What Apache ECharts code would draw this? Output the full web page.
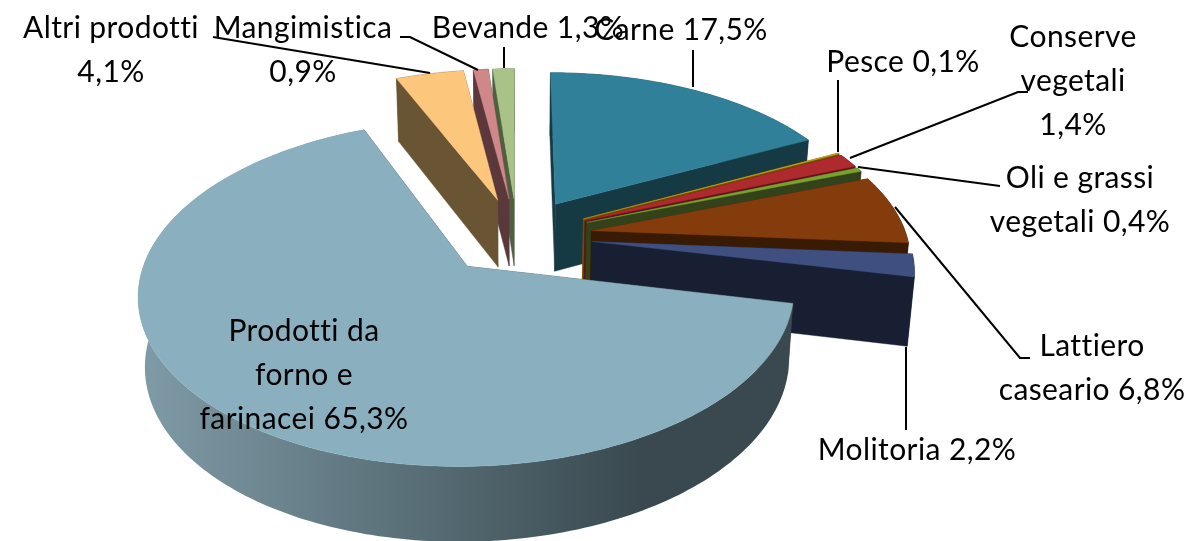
<!DOCTYPE html>
<html><head><meta charset="utf-8">
<style>html,body{margin:0;padding:0;background:#fff}#c{width:1195px;height:541px}</style>
<script src="https://cdn.jsdelivr.net/npm/echarts@6/dist/echarts.min.js"></script>
</head><body><div id="c"></div>
<script>
const categories=['Carne','Pesce','Conserve vegetali','Oli e grassi vegetali','Lattiero caseario','Molitoria','Prodotti da forno e farinacei','Altri prodotti','Mangimistica','Bevande'];
const values=[17.5,0.1,1.4,0.4,6.8,2.2,65.3,4.1,0.9,1.3];
const topColors=['#31809A','#D9A400','#AE2A2E','#7BA12E','#843C0C','#3F5080','#8AB0BF','#FCC77C','#CF8789','#A8C288'];
const wallColors=['#163A44','#6B5200','#5A1518','#33421A','#381A05','#181F33','#39494F','#695434','#5A383B','#4F6040'];
const labelLines=[
 ['Carne 17,5%'],['Pesce 0,1%'],['Conserve','vegetali','1,4%'],['Oli e grassi','vegetali 0,4%'],['Lattiero','caseario 6,8%'],['Molitoria 2,2%'],
 ['Prodotti da','forno e','farinacei 65,3%'],['Altri prodotti','4,1%'],['Mangimistica','0,9%'],['Bevande 1,3%']];
const labelAnchors=[[681,30],[903,62],[1073,37],[1080,178],[1092,346],[917,450],[304,331],[111,28],[303,28],[528,28]];
const lineHeight=44.3;
const leaders=[[[693,50],[693,87]],[[838,80],[838,152]],[[850,158],[1018,92],[1028,92]],[[858,167],[1000,186]],[[895,207],[1020,358],[1030,358]],[[906,347],[906,430]],null,[[213,37],[430,73]],[[400,37],[410,37],[478,70]],[[504,47],[504,68]]];

const cam={cx:517,cy:236,A:315,B:160,p:0.15,D:68,q:0.018,explode:0.24};
const origGetContext=HTMLCanvasElement.prototype.getContext;
HTMLCanvasElement.prototype.getContext=function(){const c=origGetContext.apply(this,arguments);if(c&&'letterSpacing' in c)c.letterSpacing='0.4px';return c;};
const total=values.reduce((a,b)=>a+b,0);
let acc=0;
const slices=values.map((v,i)=>{const a0=acc/total*2*Math.PI;acc+=v;const a1=acc/total*2*Math.PI;return{i,a0,a1,mid:(a0+a1)/2};});
function proj(U,V,h){const s=1/(1-cam.p*V);return[cam.cx+cam.A*U*s*(1-h*cam.q),cam.cy+cam.B*V*s+h*cam.D*(1+(s-1)*0.5)];}
function arcPts(sl,h){const ox=cam.explode*Math.sin(sl.mid),oy=-cam.explode*Math.cos(sl.mid);const n=Math.max(2,Math.ceil((sl.a1-sl.a0)/0.02));const out=[];
 for(let k=0;k<=n;k++){const a=sl.a0+(sl.a1-sl.a0)*k/n;out.push(proj(ox+Math.sin(a),oy-Math.cos(a),h));}return out;}
function apex(sl,h){return proj(cam.explode*Math.sin(sl.mid),-cam.explode*Math.cos(sl.mid),h);}
const order=slices.slice().sort((a,b)=>(-Math.cos(a.mid))-(-Math.cos(b.mid)));
const pieRows=order.map(s=>[s.i,values[s.i]]);
const bigWall={type:'linear',x:135,y:0,x2:640,y2:0,global:true,colorStops:[{offset:0,color:'#809CA8'},{offset:1,color:'#39494F'}]};

function renderSlice(params,api){
 const sl=slices[api.value(0)];const i=sl.i;
 const top=arcPts(sl,0),bot=arcPts(sl,1),A0=apex(sl,0),A1=apex(sl,1);
 const wall=i===6?bigWall:wallColors[i];
 const poly=(pts,fill)=>({type:'polygon',shape:{points:pts},style:{fill,stroke:typeof fill==='string'?fill:null,lineWidth:typeof fill==='string'?0.4:0},silent:true});
 const kids=[];
 kids.push(poly(top.concat(bot.slice().reverse()),wall));
 kids.push(poly([A0,top[0],bot[0],A1],wallColors[i]));
 kids.push(poly([A0,top[top.length-1],bot[bot.length-1],A1],wallColors[i]));
 kids.push(poly([A0].concat(top),topColors[i]));
 return{type:'group',children:kids};
}
function renderLabel(params,api){
 const i=api.value(0);const kids=[];
 if(leaders[i])kids.push({type:'polyline',shape:{points:leaders[i]},style:{stroke:'#000',lineWidth:2,fill:null},silent:true});
 labelLines[i].forEach((t,k)=>{kids.push({type:'text',style:{text:t,x:labelAnchors[i][0],y:labelAnchors[i][1]+k*lineHeight,align:'center',verticalAlign:'middle',fill:'#000',font:'30px Lato'},silent:true});});
 return{type:'group',children:kids};
}
const chart=echarts.init(document.getElementById('c'),null,{renderer:'canvas'});
chart.setOption({animation:false,backgroundColor:'#fff',
 series:[
  {type:'custom',name:'slices',coordinateSystem:'none',renderItem:renderSlice,data:pieRows,z:2,silent:true},
  {type:'custom',name:'labels',coordinateSystem:'none',renderItem:renderLabel,data:categories.map((c,i)=>[i,values[i],c]),z:3,silent:true}
 ]});
</script></body></html>
